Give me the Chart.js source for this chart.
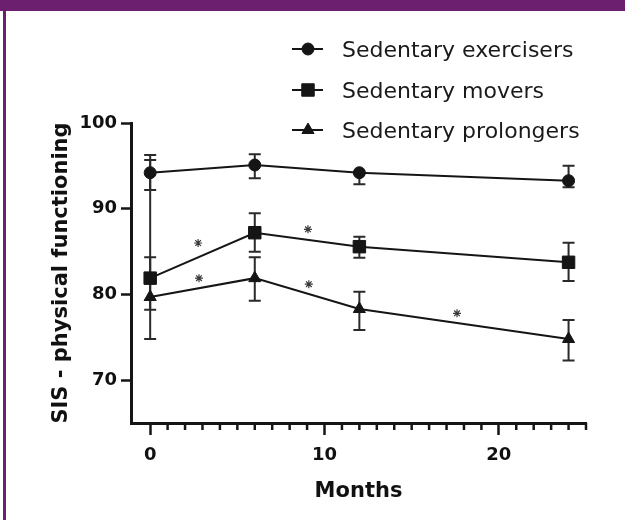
<!DOCTYPE html>
<html>
<head>
<meta charset="utf-8">
<script src="https://cdn.jsdelivr.net/npm/chart.js@4.4.1/dist/chart.umd.min.js"></script>
<style>
  html, body { margin: 0; padding: 0; background: #fff; }
  #wrap { position: relative; width: 625px; height: 520px; }
  #topbar { position: absolute; left: 0; top: 0; width: 625px; height: 11px; background: #6c1f6f; }
  #leftbar { position: absolute; left: 3px; top: 0; width: 3px; height: 520px; background: #6c1f6f; }
</style>
</head>
<body>
<div id="wrap">
  <canvas id="chart" width="625" height="520"></canvas>
  <div id="topbar"></div>
  <div id="leftbar"></div>
</div>
<script>
// data
const months = [0, 6, 12, 24];
const seriesNames = ['Sedentary exercisers', 'Sedentary movers', 'Sedentary prolongers'];

const exercisers = [94.2, 95.1, 94.2, 93.27];
const exercisersLow = [92.18, 93.55, 92.85, 92.5];
const exercisersHigh = [96.27, 96.35, 94.2, 95.02];

const movers = [81.9, 87.2, 85.57, 83.75];
const moversLow = [78.2, 84.98, 84.29, 81.57];
const moversHigh = [95.68, 89.46, 86.73, 86.04];

const prolongers = [79.7, 81.9, 78.3, 74.8];
const prolongersLow = [74.8, 79.27, 75.85, 72.3];
const prolongersHigh = [84.33, 84.33, 80.32, 77.02];

// significance asterisks
const starMonths = [2.75, 2.8, 9.05, 9.1, 17.6];
const starValues = [86.0, 81.9, 87.6, 81.2, 77.8];

const xMajorTicks = [0, 10, 20];
const xMinorTicks = [1, 2, 3, 4, 5, 6, 7, 8, 9, 11, 12, 13, 14, 15, 16, 17, 18, 19, 21, 22, 23, 24, 25];
const yTicks = [70, 80, 90, 100];

const INK = '#151515';
const FONT = "'DejaVu Sans', sans-serif";

function points(xs, ys) {
    return xs.map((x, i) => ({ x: x, y: ys[i] }));
}

// error bars drawn behind the markers
const errorBars = {
    id: 'errorBars',
    beforeDatasetsDraw(chart) {
        const ctx = chart.ctx;
        const xs = chart.scales.x, ys = chart.scales.y;
        ctx.save();
        ctx.strokeStyle = '#2a2a2a';
        ctx.lineWidth = 2;
        chart.data.datasets.forEach(ds => {
            if (!ds.low) return;
            ds.data.forEach((p, i) => {
                const px = xs.getPixelForValue(p.x);
                const top = ys.getPixelForValue(ds.high[i]);
                const bot = ys.getPixelForValue(ds.low[i]);
                ctx.beginPath();
                ctx.moveTo(px, top); ctx.lineTo(px, bot);
                ctx.moveTo(px - 6, top); ctx.lineTo(px + 6, top);
                ctx.moveTo(px - 6, bot); ctx.lineTo(px + 6, bot);
                ctx.stroke();
            });
        });
        ctx.restore();
    }
};

// short minor ticks on the x axis
const minorTicks = {
    id: 'minorTicks',
    afterDraw(chart) {
        const ctx = chart.ctx;
        const xs = chart.scales.x;
        ctx.save();
        ctx.strokeStyle = INK;
        ctx.lineWidth = 2.5;
        xMinorTicks.forEach(v => {
            const px = xs.getPixelForValue(v);
            ctx.beginPath();
            ctx.moveTo(px, xs.top);
            ctx.lineTo(px, xs.top + 7);
            ctx.stroke();
        });
        ctx.restore();
    }
};

// Prism-style legend: line + marker, then the label
const prismLegend = {
    id: 'prismLegend',
    afterDraw(chart) {
        const ctx = chart.ctx;
        const rows = [49, 90, 130];
        ctx.save();
        chart.data.datasets.forEach((ds, i) => {
            if (!ds.low) return;
            const y = rows[i];
            ctx.strokeStyle = INK;
            ctx.lineWidth = 2;
            ctx.beginPath();
            ctx.moveTo(292, y); ctx.lineTo(323, y);
            ctx.stroke();
            ctx.fillStyle = INK;
            ctx.strokeStyle = INK;
            ctx.lineWidth = 1;
            Chart.helpers.drawPoint(ctx, { pointStyle: ds.pointStyle, radius: ds.pointRadius, borderWidth: 1, rotation: 0 }, 308, y);
            ctx.fillStyle = '#1a1a1a';
            ctx.font = '22px ' + FONT;
            ctx.textBaseline = 'alphabetic';
            ctx.textAlign = 'left';
            ctx.fillText(ds.label, 342, y + 8);
        });
        ctx.restore();
    }
};

function seriesDataset(i, values, low, high, style, radius) {
    return {
        label: seriesNames[i],
        data: points(months, values),
        low: low,
        high: high,
        borderColor: INK,
        borderWidth: 2,
        backgroundColor: INK,
        pointStyle: style,
        pointRadius: radius,
        pointBorderWidth: 1,
        pointBackgroundColor: INK,
        pointBorderColor: INK,
        tension: 0
    };
}

new Chart(document.getElementById('chart'), {
    type: 'line',
    data: {
        datasets: [
            seriesDataset(0, exercisers, exercisersLow, exercisersHigh, 'circle', 6),
            seriesDataset(1, movers, moversLow, moversHigh, 'rect', 8.8),
            seriesDataset(2, prolongers, prolongersLow, prolongersHigh, 'triangle', 7),
            {
                label: 'sig',
                data: points(starMonths, starValues),
                showLine: false,
                pointStyle: 'star',
                pointRadius: 4,
                pointBorderWidth: 1.2,
                pointBorderColor: '#3a3a3a',
                pointBackgroundColor: '#3a3a3a'
            }
        ]
    },
    options: {
        responsive: false,
        animation: false,
        layout: { padding: { top: 123, right: 39, left: 0, bottom: 0 } },
        plugins: {
            legend: { display: false },
            tooltip: { enabled: false }
        },
        scales: {
            x: {
                type: 'linear',
                min: -1.1,
                max: 25,
                afterBuildTicks: s => { s.ticks = xMajorTicks.map(v => ({ value: v })); },
                afterFit: s => { s.height = 97; },
                border: { display: true, color: INK, width: 3 },
                grid: { drawOnChartArea: false, drawTicks: true, tickLength: 12, tickWidth: 2.5, tickColor: INK },
                ticks: {
                    autoSkip: false, maxRotation: 0, padding: 10, color: '#111',
                    font: { family: FONT, size: 18, weight: 'bold' }
                },
                title: {
                    display: true, text: 'Months', color: '#111',
                    font: { family: FONT, size: 21, weight: 'bold' },
                    padding: { top: 0, bottom: 16 }
                }
            },
            y: {
                type: 'linear',
                min: 65,
                max: 100,
                afterBuildTicks: s => { s.ticks = yTicks.map(v => ({ value: v })); },
                afterFit: s => { s.width = 131; },
                border: { display: true, color: INK, width: 3 },
                grid: { drawOnChartArea: false, drawTicks: true, tickLength: 10, tickWidth: 2.5, tickColor: INK },
                ticks: {
                    padding: 4, color: '#111',
                    font: { family: FONT, size: 18, weight: 'bold' }
                },
                title: {
                    display: true, text: 'SIS - physical functioning', color: '#111',
                    font: { family: FONT, size: 21, weight: 'bold' },
                    padding: { top: 49, bottom: 0 }
                }
            }
        }
    },
    plugins: [errorBars, minorTicks, prismLegend]
});
</script>
</body>
</html>
